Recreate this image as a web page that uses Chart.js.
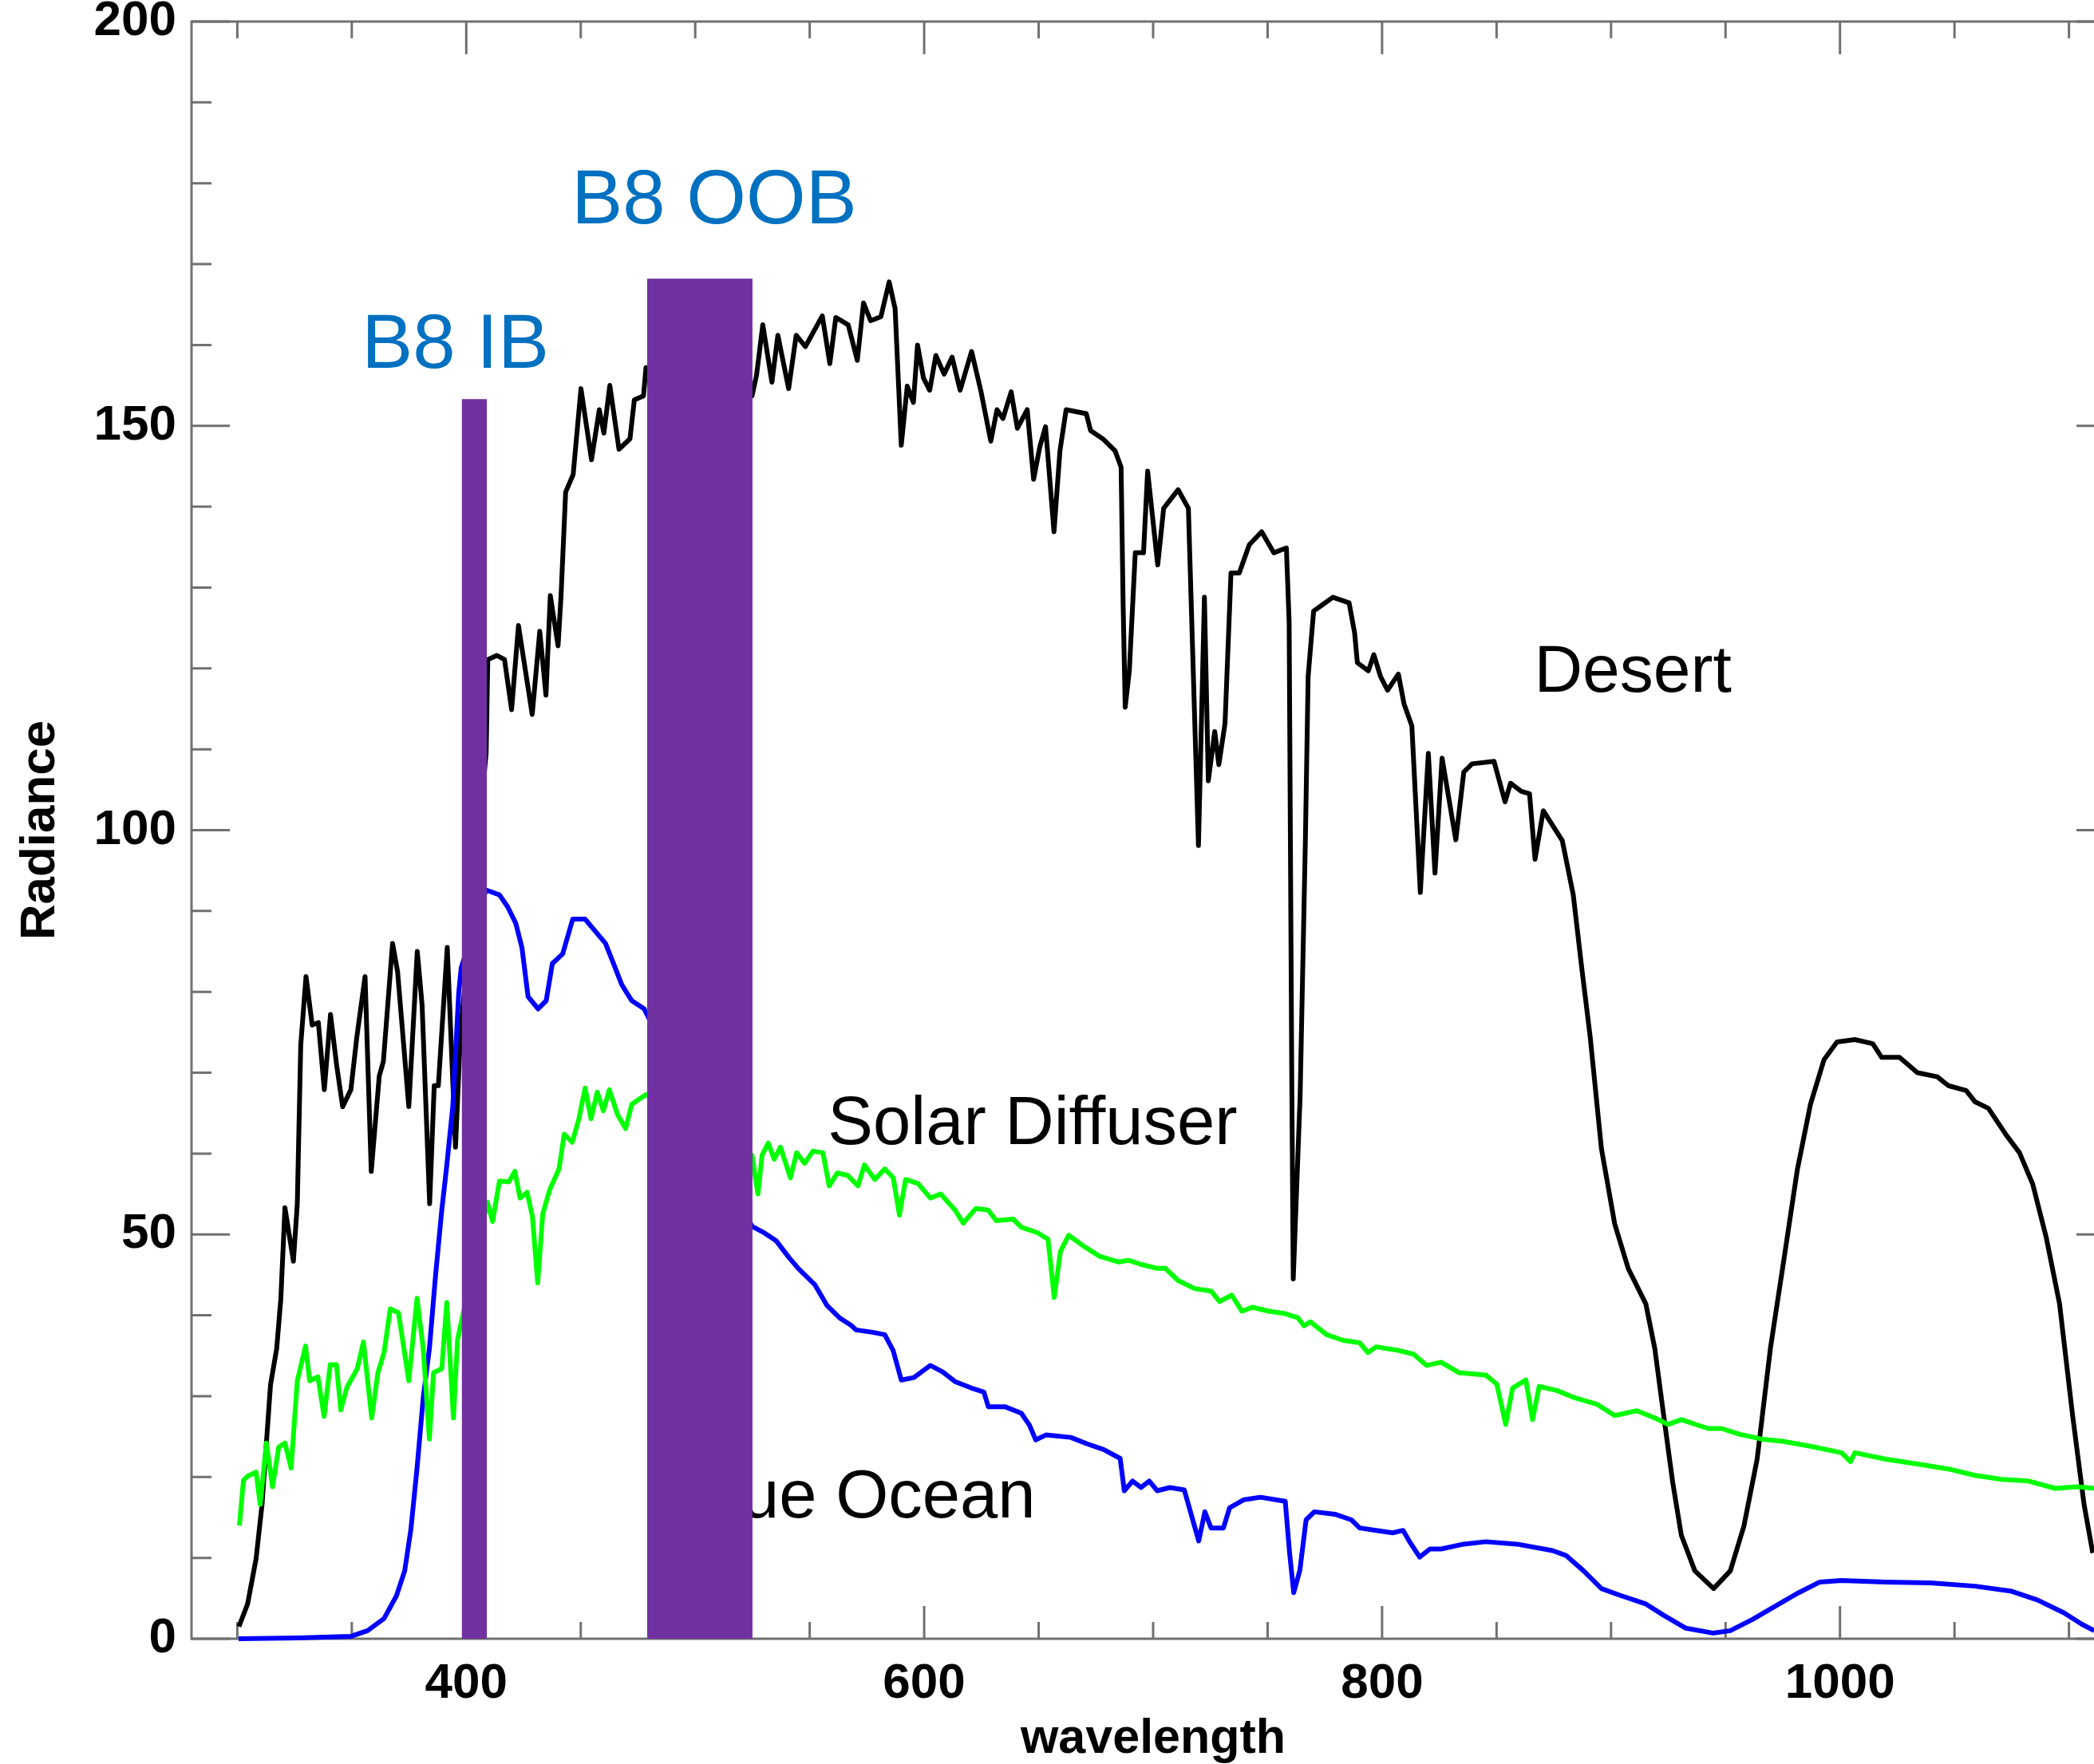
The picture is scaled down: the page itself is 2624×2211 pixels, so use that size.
<!DOCTYPE html>
<html>
<head>
<meta charset="utf-8">
<title>Radiance spectra</title>
<script src="https://cdn.jsdelivr.net/npm/chart.js@4/dist/chart.umd.min.js"></script>
<style>
  html, body { margin: 0; padding: 0; background: #fff; overflow: hidden; }
  canvas { display: block; }
</style>
</head>
<body>
<canvas id="spectra" width="2670" height="2211"></canvas>
<script>
// Desert radiance (black)
const desertWl = [300.7, 304.5, 308.2, 310.8, 314.5, 317.2, 319.0, 320.8, 324.5, 326.2, 327.7, 330.0, 332.7, 335.4, 338.0, 340.7, 343.4, 346.0, 349.6, 352.2, 355.8, 358.5, 362.0, 363.8, 367.8, 370.0, 374.9, 378.6, 380.7, 384.0, 386.0, 387.8, 391.7, 395.3, 397.5,
  408.7, 409.4, 413.4, 416.7, 419.8, 422.8, 428.8, 432.1, 434.8, 436.7, 440.1, 441.4, 443.4, 446.7, 450.1, 454.7, 458.1, 460.1, 462.7, 466.7, 471.5, 473.4, 477.4, 478.5,
  524.8, 526.8, 529.5, 533.5, 536.1, 540.8, 544.1, 548.1, 555.5, 558.8, 561.4, 566.8, 570.8, 573.5, 576.6, 581.1, 584.7, 587.3, 590.0, 592.6, 595.3, 597.1, 599.7, 602.4, 605.1, 608.7, 612.2, 615.7, 620.7, 624.7, 629.1, 631.8, 634.4, 638.0, 640.7, 645.0, 647.8, 650.5, 653.0, 656.7, 659.3, 662.0, 670.8, 672.7, 678.0, 683.4, 686.0, 686.9, 687.8, 689.6, 692.2, 695.8, 697.6, 702.0, 704.6, 710.9, 715.4, 717.2, 719.8, 722.4, 724.1, 726.9, 728.7, 731.4, 734.0, 737.6, 742.0, 747.4, 752.7, 758.2, 759.4, 760.6, 761.2, 764.2, 766.5, 767.7, 770.1, 773.6, 778.5, 785.6, 788.0, 789.2, 794.0, 796.4, 799.3, 802.4, 807.1, 809.6, 813.0, 816.7, 820.2, 823.1, 826.2, 832.2, 835.7, 839.3, 848.9, 853.7, 856.1, 860.8, 864.4, 866.8, 870.4, 878.7, 883.5, 887.1, 890.9, 895.8, 901.6, 907.5, 915.2, 919.1, 923.0, 926.9, 930.7, 936.6, 944.8, 952.1, 958.0, 963.8, 969.6, 975.5, 981.3, 987.1, 993.0, 998.7, 1006.5, 1014.3, 1018.2, 1026.0, 1033.8, 1042.5, 1047.3, 1055.1, 1059.0, 1064.8, 1072.6, 1078.4, 1084.2, 1090.1, 1095.9, 1101.6, 1106.6, 1110.4];
const desertRad = [1.5, 4.3, 9.9, 16.6, 31.4, 35.9, 42.0, 53.3, 46.7, 53.8, 73.4, 81.9, 75.9, 76.2, 67.9, 77.2, 70.9, 65.8, 67.9, 74.4, 81.9, 57.8, 69.6, 71.4, 86.0, 82.5, 65.8, 85.0, 78.4, 53.8, 68.4, 68.4, 85.5, 60.8, 75.0,
  109.6, 121.1, 121.6, 121.1, 114.9, 125.3, 114.3, 124.6, 116.7, 129.0, 122.8, 129.0, 141.8, 144.0, 154.6, 145.8, 152.0, 149.1, 155.0, 147.1, 148.4, 153.2, 153.7, 157.2,
  153.7, 156.3, 162.5, 155.4, 161.2, 154.6, 161.2, 159.8, 163.6, 157.7, 163.4, 162.5, 158.1, 165.2, 163.0, 163.5, 167.8, 164.5, 147.6, 154.9, 152.9, 160.0, 155.9, 154.4, 158.7, 156.4, 158.5, 154.4, 159.2, 154.4, 148.1, 152.0, 150.9, 154.2, 149.7, 152.0, 143.4, 147.4, 149.9, 136.9, 146.9, 152.0, 151.5, 149.4, 148.4, 146.9, 144.9, 127.8, 115.2, 119.7, 134.3, 134.3, 144.4, 132.8, 139.8, 142.1, 139.8, 122.7, 98.1, 128.8, 106.1, 112.2, 108.1, 113.2, 131.8, 131.8, 135.3, 136.9, 134.3, 134.9, 125.8, 67.1, 44.5, 67.1, 98.8, 119.0, 127.1, 127.8, 128.8, 128.1, 124.4, 120.7, 119.7, 121.7, 119.0, 117.3, 119.3, 115.6, 112.9, 92.3, 109.5, 94.7, 108.9, 98.8, 107.2, 108.2, 108.5, 103.5, 105.8, 104.8, 104.5, 96.4, 102.4, 98.7, 92.0, 83.2, 74.4, 60.6, 51.3, 45.8, 41.4, 35.9, 27.6, 19.4, 12.8, 8.4, 6.2, 8.4, 13.9, 22.2, 35.9, 46.9, 57.9, 66.1, 71.6, 73.8, 74.1, 73.6, 71.9, 71.9, 70.0, 69.5, 68.4, 67.8, 66.4, 65.6, 62.3, 60.1, 56.2, 49.6, 41.4, 27.6, 16.6, 10.6];

// Blue ocean radiance (blue)
const oceanWl = [300.6, 326.0, 349.7, 356.9, 364.1, 369.5, 373.1, 375.8, 378.5, 381.2, 383.9, 386.6, 389.3, 391.4, 394.1, 396.7, 397.8,
  408.6, 414.5, 418.1, 421.6, 424.3, 427.0, 431.4, 434.9, 437.6, 442.1, 446.5, 451.9, 456.3, 460.8, 464.3, 467.9, 472.3, 477.7,
  524.8, 530.1, 535.4, 540.8, 545.0, 552.2, 557.6, 563.0, 568.4, 570.2, 577.4, 582.8, 586.5, 590.0, 595.5, 602.7, 608.1, 613.5, 620.7, 626.1, 628.0, 635.2, 642.4, 646.0, 648.7, 653.2, 664.0, 671.2, 678.4, 685.6, 687.4, 691.0, 694.7, 698.3, 701.8, 707.3, 713.6, 716.3, 719.9, 722.6, 725.3, 730.7, 733.4, 739.7, 746.9, 757.7, 759.6, 761.4, 764.1, 766.8, 770.4, 779.4, 786.6, 790.2, 797.4, 804.6, 809.2, 811.8, 816.4, 820.9, 825.8, 835.6, 845.3, 858.9, 874.4, 880.3, 888.0, 895.8, 903.6, 915.2, 923.0, 932.7, 944.4, 952.1, 961.9, 971.6, 981.3, 991.0, 1000.7, 1020.1, 1039.6, 1059.0, 1074.5, 1086.2, 1097.8, 1105.6, 1111.0];
const oceanRad = [0.0, 0.1, 0.3, 1.0, 2.5, 5.3, 8.4, 13.5, 21.1, 29.8, 35.9, 45.0, 53.0, 58.3, 65.8, 79.9, 83.0,
  92.6, 92.0, 90.5, 88.5, 85.5, 79.4, 77.9, 78.9, 83.5, 84.7, 89.0, 89.0, 87.5, 86.0, 83.5, 80.9, 78.9, 77.9,
  51.0, 50.2, 49.2, 47.2, 45.8, 43.8, 41.2, 39.7, 38.7, 38.2, 37.9, 37.6, 35.6, 32.0, 32.3, 33.8, 33.0, 31.8, 31.0, 30.5, 28.7, 28.7, 27.9, 26.4, 24.6, 25.2, 24.9, 24.1, 23.4, 22.3, 18.3, 19.5, 18.7, 19.5, 18.3, 18.7, 18.4, 15.7, 12.1, 15.7, 13.7, 13.7, 16.2, 17.2, 17.5, 17.0, 10.6, 5.7, 8.5, 14.7, 15.7, 15.4, 14.7, 13.7, 13.4, 13.1, 13.4, 12.1, 10.1, 11.1, 11.1, 11.7, 12.0, 11.7, 10.9, 10.3, 8.4, 6.2, 5.4, 4.3, 2.9, 1.3, 0.7, 1.0, 2.4, 4.0, 5.6, 7.0, 7.2, 7.0, 6.9, 6.5, 5.9, 4.8, 3.2, 1.8, 1.0];

// Solar diffuser radiance (green)
const diffuserWl = [300.9, 302.7, 304.5, 308.2, 310.0, 312.7, 315.4, 318.1, 320.8, 323.5, 326.2, 329.8, 331.6, 335.2, 337.9, 340.6, 343.3, 345.2, 347.9, 352.4, 355.1, 358.7, 361.4, 364.1, 366.8, 370.4, 374.9, 378.5, 381.2, 383.9, 385.7, 389.3, 391.5, 394.4, 396.2,
  409.2, 411.5, 414.5, 418.6, 421.2, 423.5, 426.6, 428.9, 431.2, 433.4, 436.4, 440.5, 442.8, 446.3, 449.2, 451.9, 454.5, 457.2, 459.9, 462.5, 466.1, 469.6, 472.3, 475.9, 478.5,
  524.8, 527.4, 529.2, 531.9, 534.5, 537.2, 541.6, 544.3, 547.8, 551.4, 555.8, 558.5, 562.1, 566.6, 571.1, 573.9, 578.4, 582.8, 586.5, 589.2, 591.9, 597.3, 602.7, 607.2, 613.5, 617.1, 622.5, 628.0, 631.5, 638.8, 642.4, 649.6, 654.1, 656.8, 659.5, 663.1, 669.4, 676.6, 684.8, 689.3, 694.7, 701.8, 705.4, 710.9, 718.1, 725.3, 729.0, 734.3, 738.8, 743.3, 750.6, 757.7, 763.2, 765.9, 768.6, 775.8, 783.0, 790.2, 793.8, 797.4, 806.4, 813.7, 819.5, 825.8, 833.6, 845.3, 850.1, 854.0, 857.0, 862.8, 865.7, 868.6, 876.4, 884.1, 893.8, 901.6, 911.3, 919.1, 924.9, 930.7, 942.4, 948.3, 956.0, 965.7, 975.5, 987.1, 1000.7, 1004.6, 1006.5, 1020.1, 1033.8, 1047.3, 1059.0, 1070.6, 1082.3, 1094.0, 1103.7, 1111.0];
const diffuserRad = [14.0, 19.6, 20.1, 20.6, 16.6, 24.2, 18.8, 23.7, 24.2, 21.1, 31.9, 36.2, 31.9, 32.4, 27.5, 33.9, 33.9, 28.3, 31.1, 33.4, 36.7, 27.3, 32.9, 35.4, 40.8, 40.3, 31.9, 42.1, 35.9, 24.7, 32.9, 33.4, 41.6, 27.3, 37.0,
  54.0, 51.6, 56.6, 56.5, 57.8, 54.5, 55.2, 52.2, 44.0, 52.5, 55.5, 58.1, 62.4, 61.4, 64.3, 68.1, 64.3, 67.6, 65.3, 67.9, 64.8, 63.1, 66.1, 66.8, 67.3,
  59.8, 55.0, 59.8, 61.3, 59.3, 60.8, 57.0, 60.1, 58.8, 60.3, 60.1, 56.0, 57.6, 57.3, 56.0, 58.6, 56.8, 58.1, 57.0, 52.4, 56.8, 56.3, 54.5, 55.0, 53.0, 51.4, 53.2, 53.0, 51.7, 51.9, 50.9, 50.2, 49.4, 42.2, 47.9, 49.9, 48.6, 47.3, 46.6, 46.8, 46.3, 45.8, 45.8, 44.3, 43.3, 43.0, 41.7, 42.5, 40.5, 41.0, 40.5, 40.2, 39.7, 38.7, 39.2, 37.6, 36.9, 36.6, 35.4, 36.1, 35.7, 35.2, 33.8, 34.2, 32.9, 32.6, 31.5, 26.5, 31.0, 32.0, 27.1, 31.2, 30.7, 29.8, 29.0, 27.6, 28.2, 27.3, 26.5, 27.1, 26.0, 26.0, 25.3, 24.7, 24.4, 23.8, 23.0, 21.9, 23.0, 22.2, 21.6, 21.0, 20.2, 19.7, 19.5, 18.6, 18.8, 18.6];

// Band 8 in-band and out-of-band windows
const bandNames = ['B8 IB', 'B8 OOB'];
const bandStart = [398, 479];
const bandEnd = [409, 525];
const bandTop = [153.3, 168.2];

const xTicks = [400, 600, 800, 1000];
const yTicks = [0, 50, 100, 150, 200];

const FONT = "'Liberation Sans', Arial, Helvetica, sans-serif";
const AXIS_GREY = '#707070';

const pairs = (xs, ys) => xs.map((x, i) => ({ x, y: ys[i] }));

// text labels placed in data coordinates (left edge, baseline)
const notes = [
  { text: 'B8 IB', x: 354.3, y: 157.2, color: '#0070C0', size: 96 },
  { text: 'B8 OOB', x: 446, y: 175, color: '#0070C0', size: 96 },
  { text: 'Desert', x: 866.4, y: 117.1, color: '#000', size: 84 },
  { text: 'Solar Diffuser', x: 557.9, y: 61.2, color: '#000', size: 85 },
  { text: 'Blue Ocean', x: 493.8, y: 15.0, color: '#000', size: 85 }
];

// box frame with inward ticks on all four sides, plus the text labels
const framePlugin = {
  id: 'frame',
  beforeDatasetsDraw(chart) {
    const { ctx, chartArea: a, scales: { x, y } } = chart;
    ctx.save();
    ctx.strokeStyle = AXIS_GREY;
    ctx.lineWidth = 3;
    ctx.strokeRect(a.left, a.top, a.right - a.left, a.bottom - a.top);
    ctx.beginPath();
    for (let v = 300; v <= x.max; v += 50) {
      const px = x.getPixelForValue(v);
      const len = v % 200 === 0 ? 41 : 21;
      ctx.moveTo(px, a.bottom); ctx.lineTo(px, a.bottom - len);
      ctx.moveTo(px, a.top); ctx.lineTo(px, a.top + len);
    }
    for (let v = 0; v <= y.max; v += 10) {
      const py = y.getPixelForValue(v);
      const len = v % 50 === 0 ? 48 : 25;
      ctx.moveTo(a.left, py); ctx.lineTo(a.left + len, py);
      ctx.moveTo(a.right, py); ctx.lineTo(a.right - len, py);
    }
    ctx.stroke();

    ctx.textAlign = 'left';
    ctx.textBaseline = 'alphabetic';
    notes.forEach(n => {
      ctx.font = `${n.size}px ${FONT}`;
      ctx.fillStyle = n.color;
      ctx.fillText(n.text, x.getPixelForValue(n.x), y.getPixelForValue(n.y));
    });
    ctx.restore();
  }
};

const lineStyle = { borderWidth: 6, pointRadius: 0, tension: 0, fill: false, clip: false, borderJoinStyle: 'round' };

const bandSets = bandNames.map((name, i) => ({
  label: name,
  data: [{ x: bandStart[i], y: bandTop[i] }, { x: bandEnd[i], y: bandTop[i] }],
  borderWidth: 0,
  pointRadius: 0,
  backgroundColor: '#7030A0',
  fill: 'origin'
}));

const tickFont = { family: FONT, size: 62, weight: 'bold' };

new Chart(document.getElementById('spectra'), {
  type: 'line',
  data: {
    datasets: [
      ...bandSets,
      { label: 'Solar Diffuser', data: pairs(diffuserWl, diffuserRad), borderColor: '#00FF00', ...lineStyle },
      { label: 'Blue Ocean', data: pairs(oceanWl, oceanRad), borderColor: '#0000FF', ...lineStyle },
      { label: 'Desert', data: pairs(desertWl, desertRad), borderColor: '#000000', ...lineStyle }
    ]
  },
  options: {
    responsive: false,
    animation: false,
    layout: { padding: { top: 27, right: 20, left: 0, bottom: 0 } },
    plugins: {
      legend: { display: false },
      tooltip: { enabled: false }
    },
    scales: {
      x: {
        type: 'linear',
        min: 280,
        max: 1120,
        afterBuildTicks: s => { s.ticks = xTicks.map(v => ({ value: v })); },
        afterFit: s => { s.height = 157; s.paddingLeft = 0; s.paddingRight = 0; },
        grid: { display: false, drawTicks: false },
        border: { display: false },
        ticks: { color: '#000', padding: 20, maxRotation: 0, font: tickFont, callback: v => String(v) },
        title: {
          display: true,
          text: 'wavelength',
          color: '#000',
          font: { family: FONT, size: 61, weight: 'bold', lineHeight: 1 },
          padding: { top: 0, bottom: 0 }
        }
      },
      y: {
        min: 0,
        max: 200,
        afterBuildTicks: s => { s.ticks = yTicks.map(v => ({ value: v })); },
        afterFit: s => { s.width = 240; s.paddingTop = 0; s.paddingBottom = 0; },
        grid: { display: false, drawTicks: false },
        border: { display: false },
        ticks: { color: '#000', padding: 19, font: tickFont, callback: v => String(v) },
        title: {
          display: true,
          text: 'Radiance',
          color: '#000',
          font: { family: FONT, size: 62, weight: 'bold', lineHeight: 1 },
          padding: { top: 20, bottom: 0 }
        }
      }
    }
  },
  plugins: [framePlugin]
});
</script>
</body>
</html>
